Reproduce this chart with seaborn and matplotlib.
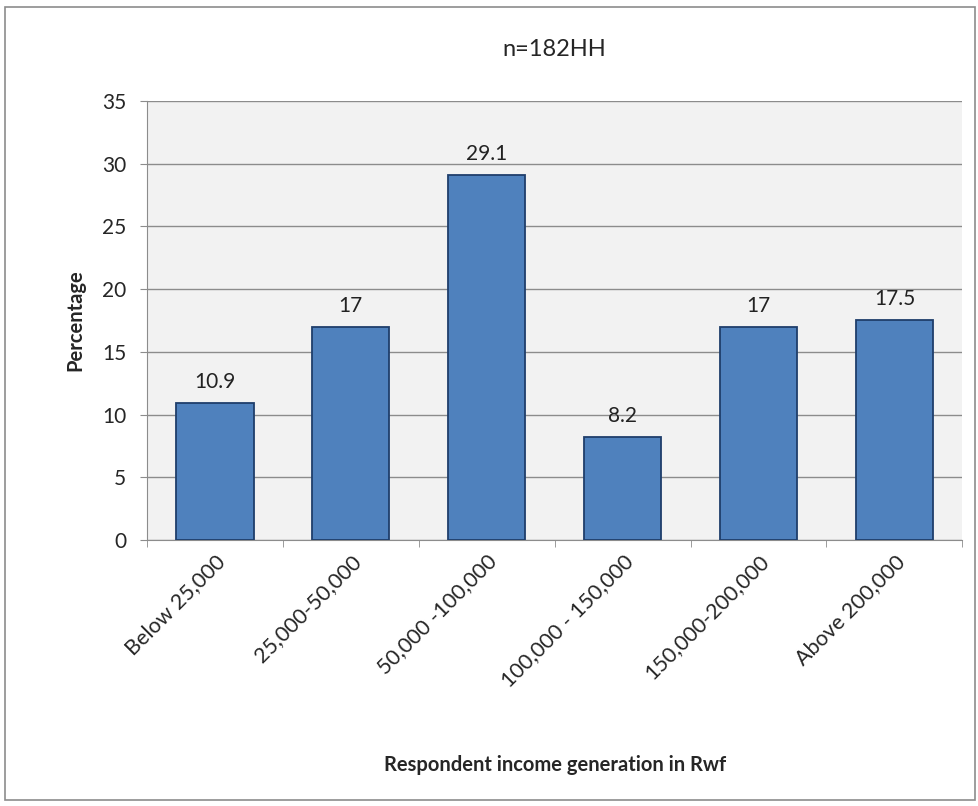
import matplotlib
matplotlib.use("Agg")
import matplotlib.pyplot as plt
import seaborn as sns
import pandas as pd
from matplotlib.patches import Rectangle

categories = ["Below 25,000", "25,000-50,000", "50,000 -100,000", "100,000 - 150,000",
              "150,000-200,000", "Above 200,000"]
values = [10.9, 17, 29.1, 8.2, 17, 17.5]
labels = ["10.9", "17", "29.1", "8.2", "17", "17.5"]
yticks = [0, 5, 10, 15, 20, 25, 30, 35]

sns.set_style("white")
plt.rcParams['font.family'] = ['Lato', 'DejaVu Sans']

df = pd.DataFrame({"cat": categories, "val": values})

fig = plt.figure(figsize=(9.79, 8.06), dpi=100)
fig.patch.set_facecolor("white")
fig.patches.append(Rectangle((5/979, 6/806), 970/979, 793/806, transform=fig.transFigure,
                             fill=False, edgecolor="#8c8c8c", linewidth=1.2))
ax = fig.add_axes([0.150, 0.330, 0.833, 0.545])
ax.set_facecolor("#f2f2f2")

sns.barplot(data=df, x="cat", y="val", ax=ax, color="#4f81bd", width=0.57,
            edgecolor="#1f3e6b", linewidth=1.3, saturation=1, zorder=3)
ax.bar_label(ax.containers[0], labels=labels, padding=8, fontsize=15, color="#222222")

ax.set_ylim(0, 35)
ax.set_yticks(yticks)
ax.set_xlim(-0.5, len(categories) - 0.5)
ax.yaxis.grid(True, color="#8c8c8c", linewidth=1.0, zorder=0)
ax.set_axisbelow(True)
for s in ["top", "right"]:
    ax.spines[s].set_visible(False)
ax.spines["left"].set_color("#8c8c8c")
ax.spines["bottom"].set_color("#8c8c8c")

ax.tick_params(axis="y", labelsize=15, length=5, color="#8c8c8c", left=True, pad=10)
ax.set_xticks(range(len(categories)))
ax.set_xticklabels(categories, rotation=45, ha="right", rotation_mode="anchor",
                   fontsize=15.5)
ax.tick_params(axis="x", length=0, pad=8)
ax.set_xticks([i + 0.5 for i in range(-1, len(categories))], minor=True)
ax.tick_params(axis="x", which="minor", length=5, color="#8c8c8c", bottom=True)

ax.set_xlabel("Respondent income generation in Rwf", fontsize=14.5, fontweight="bold")
ax.set_ylabel("Percentage", fontsize=14.5, fontweight="bold", labelpad=12)
ax.set_title("n=182HH", fontsize=17, pad=32)
ax.xaxis.set_label_coords(0.5, -0.49)

fig.savefig("out.png", dpi=100)
